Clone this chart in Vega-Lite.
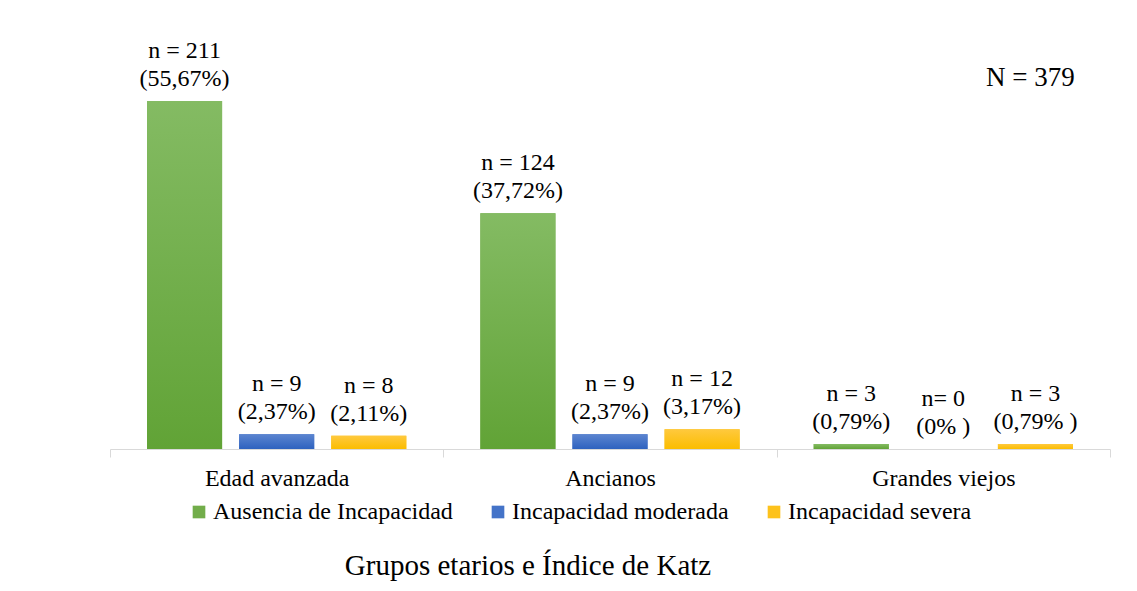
{
  "$schema": "https://vega.github.io/schema/vega-lite/v6.json",
  "width": 1000,
  "height": 375,
  "autosize": "none",
  "padding": {"left": 110, "top": 74, "right": 27, "bottom": 142},
  "background": "white",
  "config": {"view": {"stroke": null}, "font": "Liberation Serif"},
  "title": {"text": "Grupos etarios e Índice de Katz", "orient": "bottom", "font": "Liberation Serif", "fontSize": 29, "fontWeight": "normal", "color": "#000000", "anchor": "middle", "dx": -82, "offset": 28},
  "data": {"values": [
    {"grupo": "Edad avanzada", "k": "Ausencia de Incapacidad", "pct": 55.67, "label": "n = 211\n(55,67%)"},
    {"grupo": "Edad avanzada", "k": "Incapacidad moderada", "pct": 2.37, "label": "n = 9\n(2,37%)"},
    {"grupo": "Edad avanzada", "k": "Incapacidad severa", "pct": 2.11, "label": "n = 8\n(2,11%)"},
    {"grupo": "Ancianos", "k": "Ausencia de Incapacidad", "pct": 37.72, "label": "n = 124\n(37,72%)"},
    {"grupo": "Ancianos", "k": "Incapacidad moderada", "pct": 2.37, "label": "n = 9\n(2,37%)"},
    {"grupo": "Ancianos", "k": "Incapacidad severa", "pct": 3.17, "label": "n = 12\n(3,17%)"},
    {"grupo": "Grandes viejos", "k": "Ausencia de Incapacidad", "pct": 0.79, "label": "n = 3\n(0,79%)"},
    {"grupo": "Grandes viejos", "k": "Incapacidad moderada", "pct": 0, "label": "n= 0\n(0% )"},
    {"grupo": "Grandes viejos", "k": "Incapacidad severa", "pct": 0.79, "label": "n = 3\n(0,79% )"}
  ]},
  "encoding": {
    "x": {"field": "grupo", "type": "nominal", "sort": ["Edad avanzada", "Ancianos", "Grandes viejos"],
      "scale": {"paddingInner": 0, "paddingOuter": 0},
      "axis": {"title": null, "labelAngle": 0, "labelFont": "Liberation Serif", "labelFontSize": 24, "labelColor": "#000000", "labelPadding": 9, "domainColor": "#d9d9d9", "tickColor": "#d9d9d9", "tickSize": 8, "tickBand": "extent", "domainWidth": 1, "labelLimit": 0}},
    "xOffset": {"field": "k", "type": "nominal", "sort": ["Ausencia de Incapacidad", "Incapacidad moderada", "Incapacidad severa"], "scale": {"paddingInner": 0.185, "paddingOuter": 0.402}},
    "y": {"field": "pct", "type": "quantitative", "stack": null, "scale": {"domain": [0, 60]}, "axis": null}
  },
  "layer": [
    {
      "mark": {"type": "bar"},
      "encoding": {
        "color": {"field": "k", "type": "nominal", "sort": ["Ausencia de Incapacidad", "Incapacidad moderada", "Incapacidad severa"],
          "scale": {"domain": ["Ausencia de Incapacidad", "Incapacidad moderada", "Incapacidad severa"], "range": ["#72ad4a", "#4473c8", "#fdc21c"]},
          "legend": {"title": null, "orient": "none", "legendX": 77, "legendY": 426, "direction": "horizontal", "symbolType": "square", "symbolSize": 160, "symbolStrokeWidth": 0, "labelFont": "Liberation Serif", "labelFontSize": 24, "labelColor": "#000000", "labelOffset": 2, "columnPadding": 33, "labelLimit": 0}}
      }
    },
    {
      "mark": {"type": "bar"},
      "encoding": {
        "fill": {
          "condition": [
            {"test": "datum.k === 'Ausencia de Incapacidad'", "value": {"gradient": "linear", "x1": 0, "y1": 0, "x2": 0, "y2": 1, "stops": [{"offset": 0, "color": "#84bb63"}, {"offset": 1, "color": "#61a336"}]}},
            {"test": "datum.k === 'Incapacidad moderada'", "value": {"gradient": "linear", "x1": 0, "y1": 0, "x2": 0, "y2": 1, "stops": [{"offset": 0, "color": "#5c85d0"}, {"offset": 1, "color": "#2e62bf"}]}}
          ],
          "value": {"gradient": "linear", "x1": 0, "y1": 0, "x2": 0, "y2": 1, "stops": [{"offset": 0, "color": "#ffc93e"}, {"offset": 1, "color": "#fbbd00"}]}
        }
      }
    },
    {
      "mark": {"type": "text", "lineBreak": "\n", "baseline": "bottom", "dy": -38, "fontSize": 24, "lineHeight": 28, "font": "Liberation Serif", "color": "#000000"},
      "encoding": {"text": {"field": "label", "type": "nominal"}}
    },
    {
      "data": {"values": [{"t": "N = 379", "grupo": "Grandes viejos", "k": "Incapacidad severa", "pct": 59.4}]},
      "mark": {"type": "text", "baseline": "middle", "align": "center", "dx": -5, "fontSize": 27, "font": "Liberation Serif", "color": "#000000"},
      "encoding": {"text": {"field": "t", "type": "nominal"}}
    }
  ]
}
